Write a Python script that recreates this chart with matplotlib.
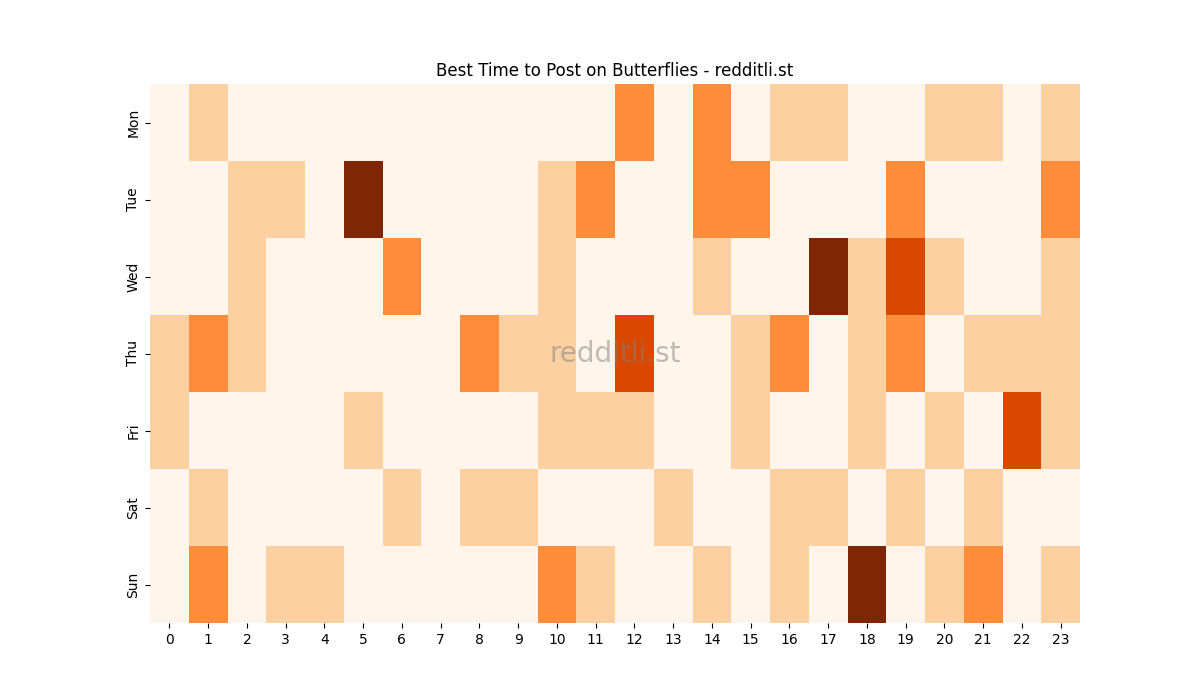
import numpy as np
import pandas as pd
import seaborn as sns
from matplotlib import pyplot as plt

dias = ['Mon', 'Tue', 'Wed', 'Thu', 'Fri', 'Sat', 'Sun']
horas = list(range(24))

# nivel de atividade por dia (linhas) e hora (colunas)
seg = [0, 1, 0, 0, 0, 0, 0, 0, 0, 0, 0, 0, 2, 0, 2, 0, 1, 1, 0, 0, 1, 1, 0, 1]
ter = [0, 0, 1, 1, 0, 4, 0, 0, 0, 0, 1, 2, 0, 0, 2, 2, 0, 0, 0, 2, 0, 0, 0, 2]
qua = [0, 0, 1, 0, 0, 0, 2, 0, 0, 0, 1, 0, 0, 0, 1, 0, 0, 4, 1, 3, 1, 0, 0, 1]
qui = [1, 2, 1, 0, 0, 0, 0, 0, 2, 1, 1, 0, 3, 0, 0, 1, 2, 0, 1, 2, 0, 1, 1, 1]
sex = [1, 0, 0, 0, 0, 1, 0, 0, 0, 0, 1, 1, 1, 0, 0, 1, 0, 0, 1, 0, 1, 0, 3, 1]
sab = [0, 1, 0, 0, 0, 0, 1, 0, 1, 1, 0, 0, 0, 1, 0, 0, 1, 1, 0, 1, 0, 1, 0, 0]
dom = [0, 2, 0, 1, 1, 0, 0, 0, 0, 0, 2, 1, 0, 0, 1, 0, 1, 0, 4, 0, 1, 2, 0, 1]

df = pd.DataFrame([seg, ter, qua, qui, sex, sab, dom], index=dias, columns=horas)

fig = plt.figure(figsize=(12, 7), dpi=100)
ax = sns.heatmap(df, cmap='Oranges', vmin=0, vmax=4, cbar=False)
ax.set_title('Best Time to Post on Butterflies - redditli.st')
ax.text(0.5, 0.5, 'redditli.st', transform=ax.transAxes, fontsize=20,
        color='gray', alpha=0.5, ha='center', va='center')
plt.savefig('out.png')
